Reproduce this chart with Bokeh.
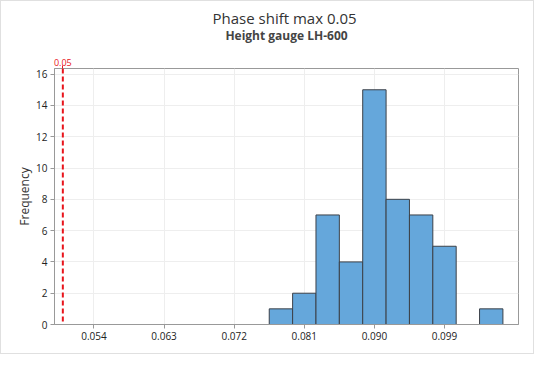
from bokeh.plotting import figure
from bokeh.models import Title, Span, FixedTicker, PrintfTickFormatter, Range1d, LinearAxis
from bokeh.embed import file_html
from bokeh.resources import INLINE

# Data
bin_left = [0.0765, 0.0795, 0.0825, 0.0855, 0.0885, 0.0915, 0.0945, 0.0975, 0.1005, 0.1035]
bin_right = [0.0795, 0.0825, 0.0855, 0.0885, 0.0915, 0.0945, 0.0975, 0.1005, 0.1035, 0.1065]
counts = [1, 2, 7, 4, 15, 8, 7, 5, 0, 1]
x_ticks = [0.054, 0.063, 0.072, 0.081, 0.090, 0.099]
y_ticks = [0, 2, 4, 6, 8, 10, 12, 14, 16]
spec_limit = 0.05
title_text = "Phase shift  max 0.05"
subtitle_text = "Height gauge LH-600"

FONT = "Open Sans"
RED = "#e8141b"

p = figure(width=534, height=354, output_backend="svg", toolbar_location=None,
           title=None, x_range=Range1d(0.04893, 0.1085), y_range=Range1d(0, 16.36),
           min_border_left=53, min_border_right=17, min_border_bottom=31, min_border_top=67)
p.styles = {"border": "1px solid #e0e0e0"}

# top axis carrying the red spec-limit label
top_axis = LinearAxis(ticker=FixedTicker(ticks=[spec_limit]),
                      axis_line_color=None, major_tick_line_color=RED,
                      major_tick_out=3, major_tick_in=0, minor_tick_line_color=None,
                      major_label_text_color=RED, major_label_text_font=FONT,
                      major_label_text_font_size="9px", major_label_standoff=0)
p.add_layout(top_axis, "above")

p.add_layout(Title(text=subtitle_text, align="center", text_font=FONT, text_font_size="12px",
                   text_font_style="bold", text_color="#444444", standoff=24), "above")
p.add_layout(Title(text=title_text, align="center", text_font=FONT, text_font_size="15px",
                   text_font_style="normal", text_color="#333333", standoff=-31), "above")

p.quad(left=bin_left, right=bin_right, bottom=0, top=counts,
       fill_color="#65a7db", line_color="#3c4148", line_width=1)

p.add_layout(Span(location=spec_limit, dimension="height", line_color=RED,
                  line_dash="5 3", line_width=2))

bottom_axis = p.below[0]
left_axis = p.left[0]
bottom_axis.ticker = FixedTicker(ticks=x_ticks)
bottom_axis.formatter = PrintfTickFormatter(format="%.3f")
left_axis.ticker = FixedTicker(ticks=y_ticks)
left_axis.axis_label = "Frequency"

for ax in (bottom_axis, left_axis):
    ax.axis_line_color = "#999999"
    ax.major_tick_line_color = "#999999"
    ax.minor_tick_line_color = None
    ax.major_tick_out = 4
    ax.major_tick_in = 0
    ax.major_label_standoff = 3
    ax.major_label_text_font = FONT
    ax.major_label_text_font_size = "10px"
    ax.major_label_text_color = "#222222"
    ax.axis_label_text_font = FONT
    ax.axis_label_text_font_size = "12px"
    ax.axis_label_text_font_style = "normal"
    ax.axis_label_text_color = "#333333"
    ax.axis_label_standoff = 0

p.xgrid.ticker = FixedTicker(ticks=x_ticks)
p.xgrid.grid_line_color = "#eeeeee"
p.ygrid.grid_line_color = "#eeeeee"
p.outline_line_color = "#999999"
p.outline_line_width = 1

open("out.html", "w").write(file_html(p, INLINE))
